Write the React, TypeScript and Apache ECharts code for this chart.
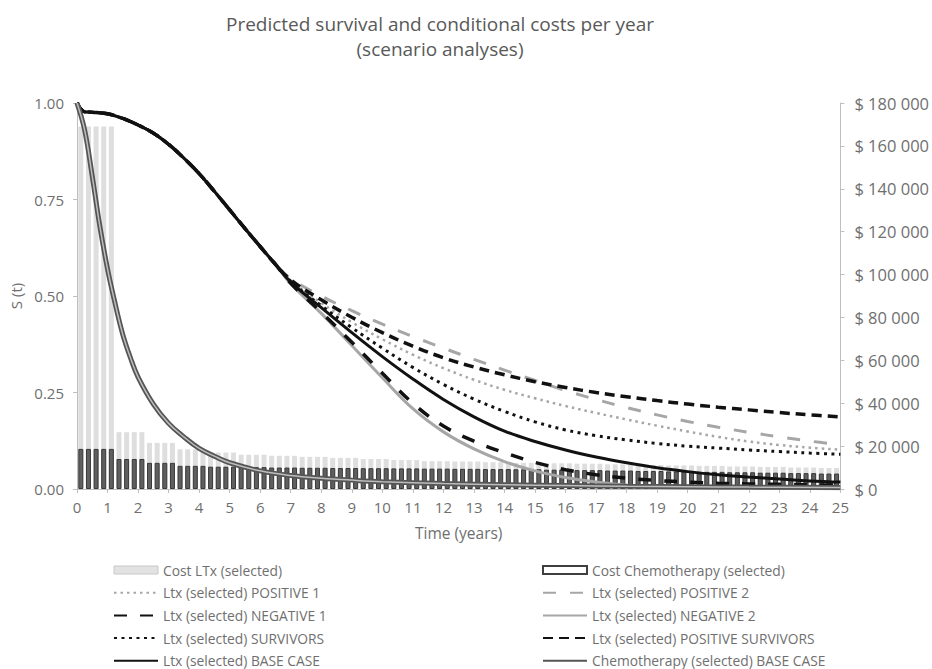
import React, { useEffect, useRef } from 'react';
import * as echarts from 'echarts';

// ---------- DATA ----------
const titleLine1 = 'Predicted survival and conditional costs per year';
const titleLine2 = '(scenario analyses)';

// Quarterly cost bars (one value per quarter, years 0 to 25)
const costLtx = [
  169000, 169000, 169000, 169000, 169000,
  26500, 26500, 26500, 26500,
  21500, 21500, 21500, 21500,
  18500, 18500, 18500, 18500,
  17000, 17000, 17000, 17000,
  16000, 16000, 16000, 16000,
  15500, 15500, 15500, 15500,
  15000, 15000, 15000, 15000,
  14500, 14500, 14500, 14500,
  14000, 14000, 14000, 14000,
  13500, 13500, 13500, 13500,
  13000, 13000, 13000, 13000,
  12800, 12800, 12800, 12800,
  12500, 12500, 12500, 12500,
  12200, 12200, 12200, 12200,
  12000, 12000, 12000, 12000,
  11800, 11800, 11800, 11800,
  11500, 11500, 11500, 11500,
  11200, 11200, 11200, 11200,
  11000, 11000, 11000, 11000,
  10800, 10800, 10800, 10800,
  10500, 10500, 10500, 10500,
  10300, 10300, 10300, 10300,
  10000, 10000, 10000, 10000,
  9800, 9800, 9800,
];
const costChemo = [
  18700, 18700, 18700, 18700, 18700,
  14000, 14000, 14000, 14000,
  12200, 12200, 12200, 12200,
  10800, 10800, 10800, 10800,
  10400, 10400, 10400, 10400,
  10200, 10200, 10200, 10200,
  10000, 10000, 10000, 10000,
  9900, 9900, 9900, 9900,
  9800, 9800, 9800, 9800,
  9700, 9700, 9700, 9700,
  9600, 9600, 9600, 9600,
  9500, 9500, 9500, 9500,
  9400, 9400, 9400, 9400,
  9300, 9300, 9300, 9300,
  9200, 9200, 9200, 9200,
  9000, 9000, 9000, 9000,
  8800, 8800, 8800, 8800,
  8600, 8600, 8600, 8600,
  8400, 8400, 8400, 8400,
  8200, 8200, 8200, 8200,
  8000, 8000, 8000, 8000,
  7800, 7800, 7800, 7800,
  7600, 7600, 7600, 7600,
  7400, 7400, 7400, 7400,
  7200, 7200, 7200,
];

// LTx survival, shared early part
const ltxEarlyTimes = [0, 0.25, 0.5, 1, 1.5, 2, 2.5, 3, 3.5, 4, 4.5, 5, 5.5, 6, 6.5];
const ltxEarlySurvival = [1.0, 0.977, 0.976, 0.972, 0.96, 0.943, 0.922, 0.893, 0.857, 0.817, 0.771, 0.723, 0.675, 0.628, 0.582];

// Scenario-specific part, years 7..25
const lateTimes = [7, 8, 9, 10, 11, 12, 13, 14, 15, 16, 17, 18, 19, 20, 21, 22, 23, 24, 25];
const positive1 = [0.540, 0.482, 0.432, 0.388, 0.348, 0.313, 0.283, 0.257, 0.235, 0.215, 0.197, 0.180, 0.164, 0.149, 0.135, 0.123, 0.114, 0.107, 0.102];
const positive2 = [0.545, 0.500, 0.462, 0.427, 0.395, 0.365, 0.336, 0.308, 0.281, 0.255, 0.232, 0.211, 0.192, 0.175, 0.160, 0.147, 0.135, 0.124, 0.115];
const negative1 = [0.533, 0.458, 0.380, 0.300, 0.222, 0.163, 0.124, 0.094, 0.069, 0.050, 0.037, 0.028, 0.022, 0.018, 0.015, 0.013, 0.012, 0.011, 0.010];
const negative2 = [0.532, 0.455, 0.372, 0.288, 0.208, 0.148, 0.104, 0.071, 0.047, 0.030, 0.018, 0.010, 0.006, 0.004, 0.003, 0.002, 0.001, 0.001, 0.000];
const survivors = [0.538, 0.475, 0.418, 0.365, 0.315, 0.271, 0.233, 0.201, 0.174, 0.153, 0.138, 0.127, 0.118, 0.111, 0.106, 0.101, 0.097, 0.093, 0.090];
const positiveSurvivors = [0.542, 0.490, 0.445, 0.405, 0.370, 0.340, 0.316, 0.296, 0.278, 0.263, 0.250, 0.239, 0.229, 0.220, 0.212, 0.205, 0.198, 0.192, 0.187];
const baseCase = [0.536, 0.470, 0.405, 0.343, 0.285, 0.232, 0.187, 0.150, 0.123, 0.101, 0.083, 0.068, 0.055, 0.045, 0.037, 0.031, 0.026, 0.021, 0.018];

// Chemotherapy survival
const chemoTimes = [0, 0.25, 0.5, 0.75, 1, 1.25, 1.5, 1.75, 2, 2.5, 3, 3.5, 4, 4.5, 5, 6, 7, 8, 9, 10, 12, 14, 16, 18, 20, 22, 25];
const chemoSurvival = [1.0, 0.93, 0.81, 0.68, 0.57, 0.48, 0.40, 0.34, 0.29, 0.22, 0.17, 0.135, 0.105, 0.085, 0.068, 0.047, 0.035, 0.028, 0.023, 0.019, 0.014, 0.011, 0.009, 0.007, 0.006, 0.005, 0.004];

const leftLegend = [
  'Cost LTx (selected)',
  'Ltx (selected) POSITIVE 1',
  'Ltx (selected) NEGATIVE 1',
  'Ltx (selected) SURVIVORS',
  'Ltx (selected) BASE CASE',
];
const rightLegend = [
  'Cost Chemotherapy (selected)',
  'Ltx (selected) POSITIVE 2',
  'Ltx (selected) NEGATIVE 2',
  'Ltx (selected) POSITIVE SURVIVORS',
  'Chemotherapy (selected) BASE CASE',
];

// ---------- CHART ----------
const FONT = '"Open Sans", "Noto Sans", sans-serif';
const LABEL = '#6f6f6f';
const AXIS = '#bfbfbf';

function ltxSeries(name: string, late: number[], lineStyle: any, z: number) {
  const data = [
    ...ltxEarlyTimes.map((t, i) => [t, ltxEarlySurvival[i]]),
    ...lateTimes.map((t, i) => [t, late[i]]),
  ];
  return {
    type: 'line',
    name,
    yAxisIndex: 0,
    data,
    symbol: 'none',
    showSymbol: false,
    smooth: 0.4,
    lineStyle,
    itemStyle: { color: lineStyle.color, opacity: 0 },
    z,
  };
}

const thousands = (v: number) => '$ ' + String(v).replace(/\B(?=(\d{3})+(?!\d))/g, ' ');

export default function App() {
  const ref = useRef<HTMLDivElement>(null);
  useEffect(() => {
    if (!ref.current) return;
    const chart = echarts.init(ref.current, undefined, { renderer: 'svg' });
    const barX = (i: number) => i * 0.25 + 0.125;
    const legendCommon = {
      orient: 'vertical',
      top: 563,
      padding: 0,
      itemWidth: 44,
      itemHeight: 8,
      itemGap: 8.7,
      selectedMode: false,
      textStyle: { color: LABEL, fontSize: 13.8, fontFamily: FONT },
    };
    const legendItem = (n: string, i: number, first: any) =>
      i === 0 ? { name: n, icon: 'rect', itemStyle: first } : { name: n, itemStyle: { opacity: 0 } };
    chart.setOption({
      animation: false,
      backgroundColor: '#ffffff',
      textStyle: { fontFamily: FONT },
      title: {
        text: titleLine1,
        subtext: titleLine2,
        left: 440,
        top: 13,
        padding: 0,
        itemGap: 3,
        textAlign: 'center',
        textStyle: { fontSize: 19, fontWeight: 'normal', color: '#595959', lineHeight: 22, fontFamily: FONT },
        subtextStyle: { fontSize: 19, color: '#595959', lineHeight: 22, fontFamily: FONT },
      },
      legend: [
        {
          ...legendCommon,
          left: 113,
          data: leftLegend.map((n, i) =>
            legendItem(n, i, { color: '#e2e2e2', borderColor: '#c8c8c8', borderWidth: 1 })
          ),
        },
        {
          ...legendCommon,
          left: 542,
          data: rightLegend.map((n, i) =>
            legendItem(n, i, { color: '#ffffff', borderColor: '#404040', borderWidth: 2 })
          ),
        },
      ],
      grid: { left: 77, right: 89, top: 103, bottom: 180 },
      xAxis: {
        type: 'value',
        min: 0,
        max: 25,
        interval: 1,
        name: 'Time (years)',
        nameLocation: 'middle',
        nameGap: 36,
        nameTextStyle: { color: LABEL, fontSize: 15.5, fontFamily: FONT },
        axisLine: { show: true, lineStyle: { color: AXIS, width: 1 } },
        axisTick: { show: true, length: 4, lineStyle: { color: AXIS } },
        axisLabel: { color: LABEL, fontSize: 15, margin: 10, fontFamily: FONT },
        splitLine: { show: false },
      },
      yAxis: [
        {
          type: 'value',
          min: 0,
          max: 1,
          interval: 0.25,
          position: 'left',
          name: 'S (t)',
          nameLocation: 'middle',
          nameGap: 50,
          nameRotate: 90,
          nameTextStyle: { color: LABEL, fontSize: 15, fontFamily: FONT },
          axisLine: { show: true, lineStyle: { color: AXIS } },
          axisTick: { show: true, length: 4, lineStyle: { color: AXIS } },
          axisLabel: { color: LABEL, fontSize: 15, margin: 13, fontFamily: FONT, formatter: (v: number) => v.toFixed(2) },
          splitLine: { show: false },
        },
        {
          type: 'value',
          min: 0,
          max: 180000,
          interval: 20000,
          position: 'right',
          axisLine: { show: true, lineStyle: { color: AXIS } },
          axisTick: { show: true, length: 4, lineStyle: { color: AXIS } },
          axisLabel: { color: LABEL, fontSize: 16.5, margin: 14, fontFamily: FONT, formatter: thousands },
          splitLine: { show: false },
        },
      ],
      series: [
        {
          type: 'bar',
          name: 'Cost LTx (selected)',
          yAxisIndex: 1,
          barWidth: 5,
          barGap: '-100%',
          data: costLtx.map((v, i) => [barX(i), v]),
          itemStyle: { color: '#dedede' },
          z: 1,
        },
        {
          type: 'bar',
          name: 'Cost Chemotherapy (selected)',
          yAxisIndex: 1,
          barWidth: 5,
          barGap: '-100%',
          data: costChemo.map((v, i) => [barX(i), v]),
          itemStyle: { color: '#5f5f5f', borderColor: '#383838', borderWidth: 1 },
          z: 2,
        },
        ltxSeries('Ltx (selected) NEGATIVE 2', negative2, { color: '#a6a6a6', width: 3, type: 'solid' }, 3),
        ltxSeries('Ltx (selected) POSITIVE 1', positive1, { color: '#a6a6a6', width: 2.5, type: [2.5, 4] }, 3),
        ltxSeries('Ltx (selected) POSITIVE 2', positive2, { color: '#a6a6a6', width: 3, type: [13, 14] }, 3),
        ltxSeries('Ltx (selected) NEGATIVE 1', negative1, { color: '#111111', width: 3.5, type: [13, 13] }, 4),
        ltxSeries('Ltx (selected) SURVIVORS', survivors, { color: '#111111', width: 3, type: [3, 4.5] }, 4),
        ltxSeries('Ltx (selected) POSITIVE SURVIVORS', positiveSurvivors, { color: '#111111', width: 3.5, type: [10, 6] }, 4),
        ltxSeries('Ltx (selected) BASE CASE', baseCase, { color: '#111111', width: 3, type: 'solid' }, 5),
        {
          type: 'line',
          name: 'Chemotherapy (selected) BASE CASE',
          yAxisIndex: 0,
          data: chemoTimes.map((t, i) => [t, chemoSurvival[i]]),
          symbol: 'none',
          showSymbol: false,
          smooth: 0.4,
          lineStyle: { color: '#555555', width: 5 },
          itemStyle: { color: '#555555', opacity: 0 },
          z: 5,
        },
        {
          type: 'line',
          name: 'chemo-inner',
          yAxisIndex: 0,
          data: chemoTimes.map((t, i) => [t, chemoSurvival[i]]),
          symbol: 'none',
          showSymbol: false,
          smooth: 0.4,
          lineStyle: { color: '#bdbdbd', width: 1.5 },
          z: 6,
        },
      ],
    });
    return () => chart.dispose();
  }, []);
  return (
    <div
      ref={ref}
      style={{ position: 'absolute', left: 0, top: 0, width: 932, height: 669, background: '#fff' }}
    />
  );
}
